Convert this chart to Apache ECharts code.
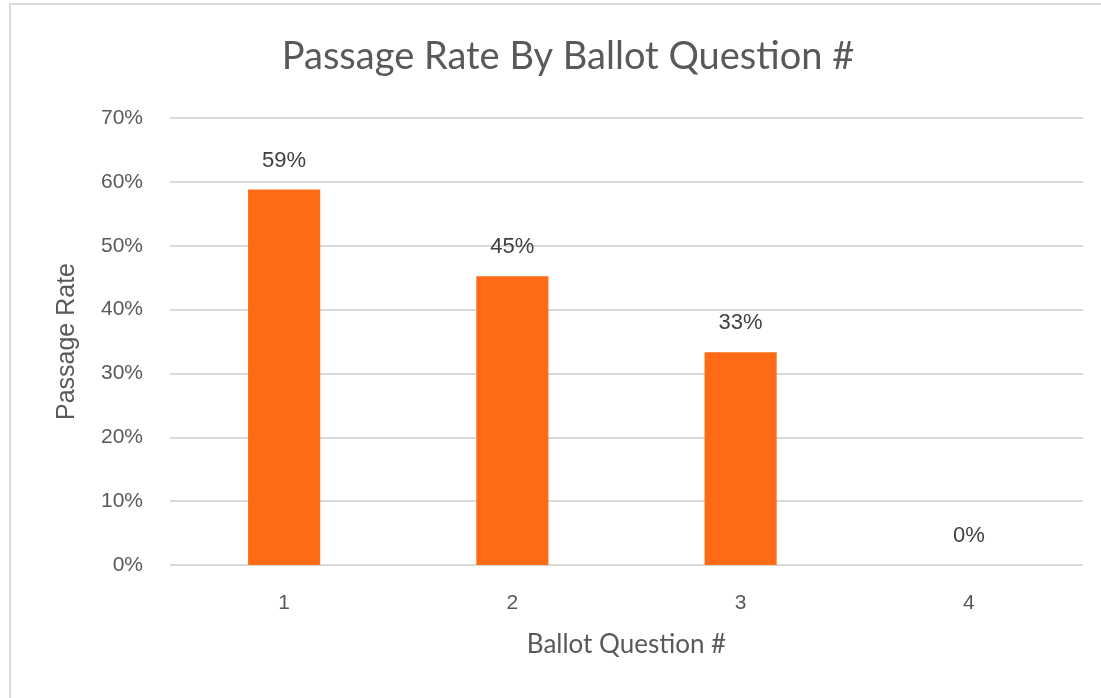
<!DOCTYPE html>
<html>
<head>
<meta charset="utf-8">
<script src="https://cdn.jsdelivr.net/npm/echarts@6/dist/echarts.min.js"></script>
<style>
html,body{margin:0;padding:0;background:#fff;}
#chart{width:1101px;height:698px;}
</style>
</head>
<body>
<div id="chart"></div>
<script>
const categories = ['1', '2', '3', '4'];
const passageRates = [0.588, 0.452, 0.333, 0];
const yTicks = { min: 0, max: 0.7, interval: 0.1 };

const chart = echarts.init(document.getElementById('chart'), null, { renderer: 'canvas' });
const pct = v => Math.round(v * 100) + '%';
chart.setOption({
  animation: false,
  backgroundColor: '#ffffff',
  title: {
    text: 'Passage Rate By Ballot Question #',
    left: 563, top: 33, textAlign: 'center',
    textStyle: { fontFamily: 'Lato', fontWeight: 'normal', fontSize: 38, color: '#595959' }
  },
  graphic: [
    { type: 'rect', shape: { x: 9, y: 3, width: 1092, height: 2 }, style: { fill: '#d9d9d9' } },
    { type: 'rect', shape: { x: 9, y: 3, width: 2, height: 695 }, style: { fill: '#d9d9d9' } }
  ],
  grid: { left: 170, right: 18, top: 118, bottom: 133 },
  xAxis: {
    type: 'category',
    data: categories,
    name: 'Ballot Question #',
    nameLocation: 'middle',
    nameGap: 67,
    nameTextStyle: { fontFamily: 'Lato', fontSize: 26, color: '#595959' },
    axisLine: { show: false },
    axisTick: { show: false },
    axisLabel: { margin: 28, fontFamily: 'Liberation Sans', fontSize: 21, color: '#595959' }
  },
  yAxis: {
    type: 'value',
    min: yTicks.min, max: yTicks.max, interval: yTicks.interval,
    name: 'Passage Rate',
    nameLocation: 'middle',
    nameGap: 90,
    nameTextStyle: { fontFamily: 'Liberation Sans', fontSize: 25, color: '#595959' },
    axisLine: { show: false },
    axisTick: { show: false },
    axisLabel: { margin: 27, fontFamily: 'Liberation Sans', fontSize: 21, color: '#595959', formatter: pct },
    splitLine: { lineStyle: { color: '#d9d9d9', width: 2 } }
  },
  series: [{
    type: 'bar',
    data: passageRates,
    barWidth: '31.6%',
    itemStyle: { color: '#FF6B14' },
    label: {
      show: true, position: 'top', distance: 18,
      formatter: p => pct(p.value),
      fontFamily: 'Liberation Sans', fontSize: 22, color: '#404040'
    }
  }]
});
</script>
</body>
</html>
